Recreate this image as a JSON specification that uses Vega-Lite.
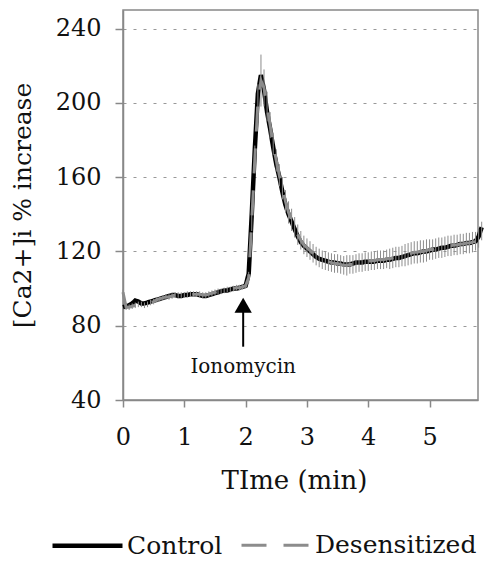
{
  "$schema": "https://vega.github.io/schema/vega-lite/v6.json",
  "width": 355,
  "height": 390,
  "autosize": "none",
  "padding": {"left": 123, "top": 10, "right": 7, "bottom": 162},
  "background": "white",
  "config": {
    "font": "DejaVu Serif",
    "view": {"stroke": "#888888", "strokeWidth": 1.5},
    "axis": {"labelFont": "DejaVu Serif", "titleFont": "DejaVu Serif", "labelColor": "#111", "titleColor": "#111", "titleFontWeight": "normal", "domainColor": "#888888", "tickColor": "#888888", "domainWidth": 1.5, "tickWidth": 1.5},
    "legend": {"labelFont": "DejaVu Serif", "titleFont": "DejaVu Serif"},
    "text": {"font": "DejaVu Serif"}
  },
  "datasets": {
    "trace": [
      {"t": 0.00, "Control": 90, "Desensitized": 98, "err": 1.5},
      {"t": 0.05, "Control": 90.5, "Desensitized": 90, "err": 1.5},
      {"t": 0.10, "Control": 91, "Desensitized": 90, "err": 1.5},
      {"t": 0.15, "Control": 92, "Desensitized": 90.5, "err": 1.5},
      {"t": 0.20, "Control": 93.5, "Desensitized": 91, "err": 1.5},
      {"t": 0.25, "Control": 93, "Desensitized": 91.5, "err": 1.5},
      {"t": 0.30, "Control": 92, "Desensitized": 91.5, "err": 1.5},
      {"t": 0.35, "Control": 92, "Desensitized": 91, "err": 1.5},
      {"t": 0.40, "Control": 92.5, "Desensitized": 91.5, "err": 1.5},
      {"t": 0.45, "Control": 93, "Desensitized": 92.5, "err": 1.5},
      {"t": 0.50, "Control": 93.5, "Desensitized": 93, "err": 1.5},
      {"t": 0.55, "Control": 94, "Desensitized": 94, "err": 1.5},
      {"t": 0.60, "Control": 94.5, "Desensitized": 94.5, "err": 1.5},
      {"t": 0.65, "Control": 95, "Desensitized": 95, "err": 1.5},
      {"t": 0.70, "Control": 95.5, "Desensitized": 95.5, "err": 1.5},
      {"t": 0.75, "Control": 96, "Desensitized": 95.5, "err": 1.5},
      {"t": 0.80, "Control": 96.5, "Desensitized": 96, "err": 1.5},
      {"t": 0.85, "Control": 96.5, "Desensitized": 96.5, "err": 1.5},
      {"t": 0.90, "Control": 96, "Desensitized": 96.5, "err": 1.5},
      {"t": 0.95, "Control": 96, "Desensitized": 96.5, "err": 1.5},
      {"t": 1.00, "Control": 96.5, "Desensitized": 96.5, "err": 1.5},
      {"t": 1.05, "Control": 96.5, "Desensitized": 97, "err": 1.5},
      {"t": 1.10, "Control": 97, "Desensitized": 97, "err": 1.5},
      {"t": 1.15, "Control": 97, "Desensitized": 97, "err": 1.5},
      {"t": 1.20, "Control": 97, "Desensitized": 97, "err": 1.5},
      {"t": 1.25, "Control": 96.5, "Desensitized": 97, "err": 1.5},
      {"t": 1.30, "Control": 96, "Desensitized": 96.5, "err": 1.5},
      {"t": 1.35, "Control": 96, "Desensitized": 96.5, "err": 1.5},
      {"t": 1.40, "Control": 96.5, "Desensitized": 97, "err": 1.5},
      {"t": 1.45, "Control": 97, "Desensitized": 97.5, "err": 1.5},
      {"t": 1.50, "Control": 97.5, "Desensitized": 98, "err": 1.5},
      {"t": 1.55, "Control": 98, "Desensitized": 98.5, "err": 1.5},
      {"t": 1.60, "Control": 98.5, "Desensitized": 98.5, "err": 1.5},
      {"t": 1.65, "Control": 99, "Desensitized": 99, "err": 1.5},
      {"t": 1.70, "Control": 99, "Desensitized": 99.5, "err": 1.5},
      {"t": 1.75, "Control": 99.5, "Desensitized": 99.5, "err": 1.5},
      {"t": 1.80, "Control": 100, "Desensitized": 100, "err": 1.5},
      {"t": 1.85, "Control": 100, "Desensitized": 100.5, "err": 1.5},
      {"t": 1.90, "Control": 100.5, "Desensitized": 100.5, "err": 1.5},
      {"t": 1.95, "Control": 101, "Desensitized": 101, "err": 1.5},
      {"t": 2.00, "Control": 101.5, "Desensitized": 101.5, "err": 1.5},
      {"t": 2.05, "Control": 108, "Desensitized": 106, "err": 3},
      {"t": 2.10, "Control": 140, "Desensitized": 136, "err": 5},
      {"t": 2.15, "Control": 175, "Desensitized": 170, "err": 7},
      {"t": 2.20, "Control": 205, "Desensitized": 200, "err": 10},
      {"t": 2.25, "Control": 215, "Desensitized": 212, "err": 14},
      {"t": 2.30, "Control": 207, "Desensitized": 208, "err": 10},
      {"t": 2.35, "Control": 195, "Desensitized": 198, "err": 8},
      {"t": 2.40, "Control": 186, "Desensitized": 188, "err": 7},
      {"t": 2.45, "Control": 176, "Desensitized": 178, "err": 6},
      {"t": 2.50, "Control": 167, "Desensitized": 169, "err": 6},
      {"t": 2.55, "Control": 160, "Desensitized": 161, "err": 6},
      {"t": 2.60, "Control": 152, "Desensitized": 154, "err": 6},
      {"t": 2.65, "Control": 145, "Desensitized": 147, "err": 6},
      {"t": 2.70, "Control": 140, "Desensitized": 141, "err": 6},
      {"t": 2.75, "Control": 136, "Desensitized": 137, "err": 6},
      {"t": 2.80, "Control": 132, "Desensitized": 133, "err": 5.5},
      {"t": 2.85, "Control": 128, "Desensitized": 129, "err": 5.5},
      {"t": 2.90, "Control": 125, "Desensitized": 126, "err": 5},
      {"t": 2.95, "Control": 123, "Desensitized": 123.5, "err": 5},
      {"t": 3.00, "Control": 121.5, "Desensitized": 122, "err": 5},
      {"t": 3.05, "Control": 120, "Desensitized": 120.5, "err": 5},
      {"t": 3.10, "Control": 118.5, "Desensitized": 119, "err": 5},
      {"t": 3.15, "Control": 117, "Desensitized": 117.5, "err": 5},
      {"t": 3.20, "Control": 116, "Desensitized": 116.5, "err": 5},
      {"t": 3.25, "Control": 115.5, "Desensitized": 115.5, "err": 5},
      {"t": 3.30, "Control": 115, "Desensitized": 115, "err": 5},
      {"t": 3.35, "Control": 114.5, "Desensitized": 114.5, "err": 5},
      {"t": 3.40, "Control": 114, "Desensitized": 114, "err": 5},
      {"t": 3.45, "Control": 114, "Desensitized": 113.5, "err": 5},
      {"t": 3.50, "Control": 113.5, "Desensitized": 113.5, "err": 5},
      {"t": 3.55, "Control": 113.5, "Desensitized": 113, "err": 5},
      {"t": 3.60, "Control": 113, "Desensitized": 112.5, "err": 5},
      {"t": 3.65, "Control": 113, "Desensitized": 112.5, "err": 5.5},
      {"t": 3.70, "Control": 113, "Desensitized": 113, "err": 5},
      {"t": 3.75, "Control": 113.5, "Desensitized": 113, "err": 5},
      {"t": 3.80, "Control": 114, "Desensitized": 113.5, "err": 5},
      {"t": 3.85, "Control": 114, "Desensitized": 114, "err": 5},
      {"t": 3.90, "Control": 114, "Desensitized": 114, "err": 5},
      {"t": 3.95, "Control": 114.5, "Desensitized": 114.5, "err": 5},
      {"t": 4.00, "Control": 114.5, "Desensitized": 114.5, "err": 5},
      {"t": 4.05, "Control": 114.5, "Desensitized": 115, "err": 5},
      {"t": 4.10, "Control": 114.5, "Desensitized": 115, "err": 5},
      {"t": 4.15, "Control": 115, "Desensitized": 115.5, "err": 5},
      {"t": 4.20, "Control": 115, "Desensitized": 115.5, "err": 5},
      {"t": 4.25, "Control": 115, "Desensitized": 115.5, "err": 5},
      {"t": 4.30, "Control": 115.5, "Desensitized": 116, "err": 5},
      {"t": 4.35, "Control": 115.5, "Desensitized": 116, "err": 5.5},
      {"t": 4.40, "Control": 116, "Desensitized": 116.5, "err": 5.5},
      {"t": 4.45, "Control": 116.5, "Desensitized": 117, "err": 5.5},
      {"t": 4.50, "Control": 116.5, "Desensitized": 117, "err": 5.5},
      {"t": 4.55, "Control": 117, "Desensitized": 117.5, "err": 5.5},
      {"t": 4.60, "Control": 117.5, "Desensitized": 118, "err": 6},
      {"t": 4.65, "Control": 118, "Desensitized": 118.5, "err": 6},
      {"t": 4.70, "Control": 118.5, "Desensitized": 119, "err": 6},
      {"t": 4.75, "Control": 119, "Desensitized": 119.5, "err": 6},
      {"t": 4.80, "Control": 119, "Desensitized": 119.5, "err": 6},
      {"t": 4.85, "Control": 119.5, "Desensitized": 120, "err": 6},
      {"t": 4.90, "Control": 120, "Desensitized": 120, "err": 6},
      {"t": 4.95, "Control": 120, "Desensitized": 120.5, "err": 6},
      {"t": 5.00, "Control": 120.5, "Desensitized": 121, "err": 5.5},
      {"t": 5.05, "Control": 121, "Desensitized": 121, "err": 5.5},
      {"t": 5.10, "Control": 121, "Desensitized": 121.5, "err": 5.5},
      {"t": 5.15, "Control": 121.5, "Desensitized": 122, "err": 5.5},
      {"t": 5.20, "Control": 122, "Desensitized": 122, "err": 5.5},
      {"t": 5.25, "Control": 122, "Desensitized": 122.5, "err": 5.5},
      {"t": 5.30, "Control": 122.5, "Desensitized": 123, "err": 5.5},
      {"t": 5.35, "Control": 123, "Desensitized": 123, "err": 5.5},
      {"t": 5.40, "Control": 123, "Desensitized": 123.5, "err": 5.5},
      {"t": 5.45, "Control": 123.5, "Desensitized": 123.5, "err": 5.5},
      {"t": 5.50, "Control": 124, "Desensitized": 124, "err": 5.5},
      {"t": 5.55, "Control": 124, "Desensitized": 124, "err": 5.5},
      {"t": 5.60, "Control": 124.5, "Desensitized": 124.5, "err": 5.5},
      {"t": 5.65, "Control": 124.5, "Desensitized": 124.5, "err": 5.5},
      {"t": 5.70, "Control": 125, "Desensitized": 125, "err": 5.5},
      {"t": 5.75, "Control": 125.5, "Desensitized": 125.5, "err": 5},
      {"t": 5.80, "Control": 128, "Desensitized": 127, "err": 5},
      {"t": 5.85, "Control": 133, "Desensitized": 131, "err": 5}
    ],
    "arrow": [{"t": 1.96, "y0": 68.7, "y1": 88, "tip": 91, "label": "Ionomycin", "ly": 54.5}]
  },
  "layer": [
    {
      "data": {"name": "trace"},
      "transform": [{"fold": ["Control", "Desensitized"], "as": ["series", "value"]}],
      "mark": {"type": "line", "clip": false, "strokeCap": "butt"},
      "encoding": {
        "x": {
          "field": "t", "type": "quantitative",
          "scale": {"domain": [0, 5.79], "nice": false, "zero": false},
          "axis": {"values": [0, 1, 2, 3, 4, 5], "format": "d", "title": "TIme (min)", "grid": false, "labelFont": "DejaVu Serif", "titleFont": "DejaVu Serif", "labelFontSize": 24, "titleFontSize": 26, "tickSize": 7, "labelPadding": 18, "titlePadding": 18, "titleX": 171, "labelFlush": false}
        },
        "y": {
          "field": "value", "type": "quantitative",
          "scale": {"domain": [40, 250], "nice": false, "zero": false},
          "axis": {"values": [40, 80, 120, 160, 200, 240], "title": "[Ca2+]i % increase", "grid": true, "gridDash": [3, 7], "gridColor": "#999999", "gridWidth": 1, "labelFont": "DejaVu Serif", "titleFont": "DejaVu Serif", "labelFontSize": 24, "titleFontSize": 25, "tickSize": 8, "labelPadding": 14, "titlePadding": 20, "labelFlush": false}
        },
        "color": {
          "field": "series", "type": "nominal",
          "scale": {"domain": ["Control", "Desensitized"], "range": ["#000000", "#8c8c8c"]},
          "legend": {"orient": "none", "legendX": -73, "legendY": 498, "direction": "horizontal", "title": null, "symbolType": "stroke", "symbolSize": 4900, "labelFontSize": 25, "labelFont": "DejaVu Serif", "labelColor": "#111", "labelOffset": 2, "labelLimit": 400, "columnPadding": 12, "padding": 0}
        },
        "strokeDash": {
          "field": "series", "type": "nominal",
          "scale": {"domain": ["Control", "Desensitized"], "range": [[1, 0], [25, 17]]}
        },
        "strokeWidth": {
          "field": "series", "type": "nominal",
          "scale": {"domain": ["Control", "Desensitized"], "range": [4.5, 3]}
        }
      }
    },
    {
      "data": {"name": "trace"},
      "mark": {"type": "errorbar", "color": "#8c8c8c", "thickness": 1, "clip": false},
      "encoding": {
        "x": {"field": "t", "type": "quantitative"},
        "y": {"field": "Desensitized", "type": "quantitative", "title": "[Ca2+]i % increase"},
        "yError": {"field": "err"}
      }
    },
    {
      "data": {"name": "arrow"},
      "mark": {"type": "rule", "color": "#000000", "strokeWidth": 2},
      "encoding": {
        "x": {"field": "t", "type": "quantitative"},
        "y": {"field": "y0", "type": "quantitative"},
        "y2": {"field": "y1"}
      }
    },
    {
      "data": {"name": "arrow"},
      "mark": {"type": "point", "shape": "triangle-up", "filled": true, "color": "#000000", "size": 300, "opacity": 1},
      "encoding": {
        "x": {"field": "t", "type": "quantitative"},
        "y": {"field": "tip", "type": "quantitative"}
      }
    },
    {
      "data": {"name": "arrow"},
      "mark": {"type": "text", "font": "DejaVu Serif", "fontSize": 20, "color": "#111", "align": "center", "baseline": "alphabetic"},
      "encoding": {
        "x": {"field": "t", "type": "quantitative"},
        "y": {"field": "ly", "type": "quantitative"},
        "text": {"field": "label"}
      }
    }
  ]
}
